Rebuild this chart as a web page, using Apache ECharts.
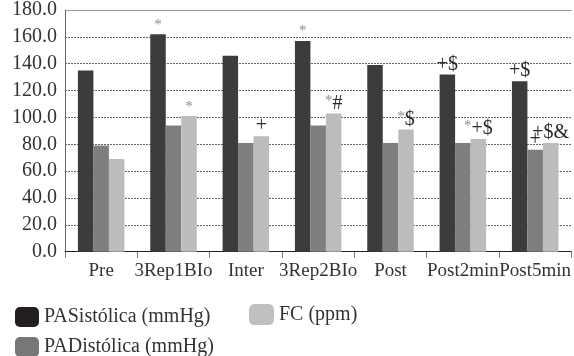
<!DOCTYPE html>
<html>
<head>
<meta charset="utf-8">
<script src="https://cdn.jsdelivr.net/npm/echarts@6/dist/echarts.min.js"></script>
<style>html,body{margin:0;padding:0;background:#fff}#c{width:574px;height:356px}</style>
</head>
<body>
<div id="c"></div>
<script>
var categories = ['Pre', '3Rep1BIo', 'Inter', '3Rep2BIo', 'Post', 'Post2min', 'Post5min'];
var seriesNames = ['PASistólica (mmHg)', 'PADistólica (mmHg)', 'FC (ppm)'];
var pasValues = [135, 162, 146, 157, 139, 132, 127];
var padValues = [79, 94, 81, 94, 81, 81, 76];
var fcValues = [69, 101, 86, 103, 91, 84, 81];
var pasMarks = ['', '*', '', '*', '', '+$', '+$'];
var padMarks = ['', '', '', '', '', '', '+'];
var fcMarks = ['', '*', '+', '*#', '*$', '*+$', '+$&'];
var yTicks = [0, 20, 40, 60, 80, 100, 120, 140, 160, 180];

var FONT = '"Liberation Serif", "Times New Roman", serif';
var colors = ['#3c3c3c', '#7e7e80', '#bcbcbf'];
var legendColors = ['#231f20', '#77777a', '#c0c0c3'];

function markFormatter(marks) {
  return function (p) {
    var m = marks[p.dataIndex];
    if (!m) return '';
    var out = '';
    for (var i = 0; i < m.length; i++) {
      var ch = m[i];
      if (ch === '*') out += '{a|*}';
      else out += '{b|' + ch + '}';
    }
    return out;
  };
}
var rich = {
  a: { fontFamily: FONT, fontSize: 15, color: '#8a8a8a', verticalAlign: 'top', padding: [0, 0, 2, 0] },
  b: { fontFamily: FONT, fontSize: 20, color: '#2a2a2a' }
};

function makeSeries(idx, values, marks) {
  return {
    name: seriesNames[idx],
    type: 'bar',
    data: values,
    barWidth: 15.5,
    barGap: '0%',
    itemStyle: { color: colors[idx] },
    label: {
      show: true,
      position: 'top',
      distance: 0,
      formatter: markFormatter(marks),
      rich: rich
    }
  };
}

var chart = echarts.init(document.getElementById('c'));
chart.setOption({
  animation: false,
  backgroundColor: '#ffffff',
  textStyle: { fontFamily: FONT },
  grid: { left: 65, right: 1.5, top: 10, bottom: 104.3, containLabel: false },
  legend: [
    { left: 10, top: 302, itemWidth: 24, itemHeight: 20, itemGap: 10,
      textStyle: { fontFamily: FONT, fontSize: 20, color: '#333' },
      data: [{ name: seriesNames[0], itemStyle: { color: legendColors[0] } }] },
    { left: 244, top: 299, itemWidth: 25, itemHeight: 21, itemGap: 10,
      textStyle: { fontFamily: FONT, fontSize: 20, color: '#333' },
      data: [{ name: seriesNames[2], itemStyle: { color: legendColors[2] } }] },
    { left: 10, top: 332, itemWidth: 24, itemHeight: 20, itemGap: 10,
      textStyle: { fontFamily: FONT, fontSize: 20, color: '#333' },
      data: [{ name: seriesNames[1], itemStyle: { color: legendColors[1] } }] }
  ],
  xAxis: [
    {
      type: 'category',
      data: categories,
      axisLine: { lineStyle: { color: '#222', width: 1 } },
      axisTick: { show: true, length: 6, lineStyle: { color: '#777' } },
      axisLabel: { fontFamily: FONT, fontSize: 19, color: '#333', margin: 10, interval: 0 }
    },
    {
      type: 'category',
      data: categories,
      position: 'top',
      axisLine: { show: true, lineStyle: { color: '#999', width: 1 } },
      axisTick: { show: false },
      axisLabel: { show: false }
    }
  ],
  yAxis: {
    type: 'value',
    min: yTicks[0],
    max: yTicks[yTicks.length - 1],
    interval: 20,
    axisLine: { show: true, lineStyle: { color: '#666', width: 1 } },
    axisTick: { show: false },
    axisLabel: {
      fontFamily: FONT, fontSize: 20, color: '#333', margin: 8,
      formatter: function (v) { return v.toFixed(1); }
    },
    splitLine: { show: true, lineStyle: { color: '#666', width: 1, type: [2, 1] } }
  },
  series: [
    makeSeries(0, pasValues, pasMarks),
    makeSeries(1, padValues, padMarks),
    makeSeries(2, fcValues, fcMarks)
  ]
});
</script>
</body>
</html>
